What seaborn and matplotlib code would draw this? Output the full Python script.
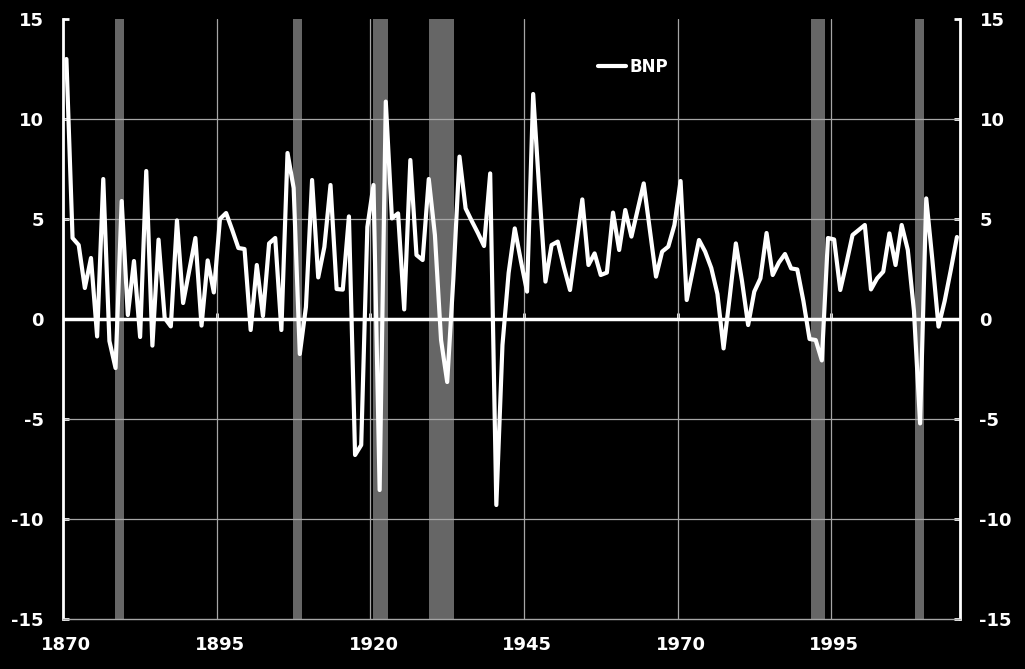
import pandas as pd
import matplotlib.pyplot as plt
import seaborn as sns

# annual BNP growth, 1870-2015
years = list(range(1870, 2016))
bnp = [13.0, 4.05, 3.7, 1.55, 3.05, -0.87, 7.0, -1.1, -2.45, 5.9,
       0.2, 2.9, -0.9, 7.4, -1.33, 3.97, 0.05, -0.37, 4.93, 0.8,
       2.43, 4.05, -0.33, 2.93, 1.33, 5.0, 5.3, 4.45, 3.55, 3.5,
       -0.55, 2.7, 0.15, 3.78, 4.05, -0.55, 8.3, 6.55, -1.75, 0.6,
       6.95, 2.08, 3.6, 6.7, 1.5, 1.47, 5.13, -6.8, -6.3, 4.6,
       6.7, -8.55, 10.87, 5.03, 5.28, 0.48, 7.95, 3.2, 2.95, 7.0,
       4.2, -1.05, -3.15, 2.0, 8.12, 5.53, 4.9, 4.3, 3.65, 7.28,
       -9.3, -1.3, 2.3, 4.53, 2.9, 1.37, 11.25, 6.4, 1.87, 3.7,
       3.87, 2.6, 1.45, 3.7, 5.98, 2.7, 3.28, 2.2, 2.32, 5.32,
       3.45, 5.45, 4.12, 5.45, 6.78, 4.45, 2.12, 3.37, 3.62, 4.7,
       6.9, 0.95, 2.45, 3.95, 3.37, 2.55, 1.25, -1.47, 1.1, 3.78,
       1.9, -0.3, 1.37, 2.03, 4.3, 2.2, 2.82, 3.25, 2.53, 2.48,
       0.9, -1.0, -1.05, -2.07, 4.05, 3.98, 1.45, 2.78, 4.2, 4.45,
       4.7, 1.48, 2.03, 2.37, 4.28, 2.7, 4.7, 3.45, 0.4, -5.22,
       6.03, 2.95, -0.38, 0.9, 2.45, 4.1]

# shaded crisis periods
rec_start = [1877.9, 1906.9, 1919.9, 1929.1, 1991.2, 2008.1]
rec_end = [1879.4, 1908.4, 1922.3, 1933.1, 1993.5, 2009.65]

x_ticks = [1870, 1895, 1920, 1945, 1970, 1995]
y_ticks = [-15, -10, -5, 0, 5, 10, 15]

df = pd.DataFrame({"year": years, "BNP": bnp})

sns.set_style("dark")
plt.rcParams['font.family'] = ['DejaVu Sans']
plt.rcParams['font.weight'] = 'bold'
plt.rcParams['axes.unicode_minus'] = False

fig = plt.figure(figsize=(10.25, 6.69), dpi=100, facecolor='black')
ax = fig.add_axes([0.0618, 0.0747, 0.8748, 0.8969])
ax.set_facecolor('black')

for s, e in zip(rec_start, rec_end):
    ax.axvspan(s, e, color='#666666', lw=0, zorder=1)

grid_col = '#a6a6a6'
for yv in [-10, -5, 5, 10]:
    ax.axhline(yv, color=grid_col, lw=0.9, zorder=1.5)
for xv in x_ticks[1:]:
    ax.axvline(xv - 0.5, color=grid_col, lw=0.9, zorder=1.5)
ax.axhline(0, color='white', lw=2.5, zorder=2)

sns.lineplot(data=df, x="year", y="BNP", color='white', lw=3, ax=ax,
             label='BNP', zorder=3)

ax.set_xlim(1869.5, 2015.5)
ax.set_ylim(-15, 15)
ax.set_xlabel("")
ax.set_ylabel("")

ax.set_xticks(x_ticks)
ax.set_xticklabels([str(v) for v in x_ticks])
ax.tick_params(axis='x', length=0, pad=12, labelsize=13, labelcolor='white')

ax.set_yticks(y_ticks)
ax.set_yticklabels([str(v) for v in y_ticks])
ax.tick_params(axis='y', left=True, right=True, labelleft=True, labelright=True,
               direction='in', length=4, width=2, color='white',
               pad=14, labelsize=13, labelcolor='white')

for side in ['left', 'right']:
    ax.spines[side].set_color('white')
    ax.spines[side].set_linewidth(2)
ax.spines['top'].set_visible(False)
ax.spines['bottom'].set_color(grid_col)
ax.spines['bottom'].set_linewidth(1)

# small tick marks on the zero line
sec = ax.secondary_xaxis(0.5)
sec.set_xticks([v - 0.5 for v in x_ticks[1:]])
sec.tick_params(direction='out', length=4, width=2, color='white',
                labeltop=False, labelbottom=False)
for sp in sec.spines.values():
    sp.set_visible(False)

leg = ax.legend(loc='center left', bbox_to_anchor=(0.596, 0.92), frameon=False,
                handlelength=1.7, handletextpad=0.2, borderpad=0, borderaxespad=0,
                labelcolor='white', prop={'weight': 'bold', 'size': 12})

fig.savefig("out.png", dpi=100, facecolor='black')
